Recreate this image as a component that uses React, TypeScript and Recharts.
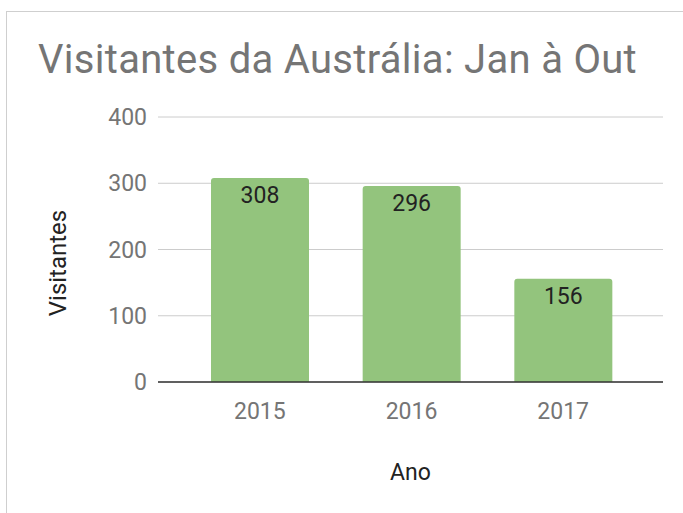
import React from 'react';
import { BarChart, Bar, XAxis, YAxis, CartesianGrid, LabelList, Label } from 'recharts';

const years = ['2015', '2016', '2017'];
const visitors = [308, 296, 156];
const yTicks = [0, 100, 200, 300, 400];

const data = years.map((year, i) => ({ year, visitors: visitors[i] }));

const FONT = 'Roboto, "Noto Sans", sans-serif';

const App: React.FC = () => {
  return (
    <div style={{ position: 'absolute', left: 0, top: 0, width: 683, height: 513, background: '#fff', fontFamily: FONT }}>
      {/* frame lines at top and left */}
      <div style={{ position: 'absolute', left: 6, top: 11, width: 677, height: 502, borderTop: '1px solid #cfcfcf', borderLeft: '1px solid #cfcfcf' }} />
      <div style={{ position: 'absolute', left: 38, top: 40, fontSize: 40, lineHeight: '40px', letterSpacing: 0.3, color: '#757575', whiteSpace: 'nowrap' }}>
        Visitantes da Austrália: Jan à Out
      </div>
      <div style={{ position: 'absolute', left: 0, top: 0 }}>
        <BarChart
          width={683}
          height={513}
          data={data}
          margin={{ top: 117, right: 20, bottom: 91, left: 70 }}
          barCategoryGap={27}
        >
          <CartesianGrid vertical={false} stroke="#cccccc" />
          <XAxis
            dataKey="year"
            padding={{ left: 26, right: 24 }}
            tickLine={false}
            tickSize={0}
            tickMargin={21}
            axisLine={{ stroke: '#333333', strokeWidth: 1.5 }}
            tick={{ fill: '#757575', fontSize: 23, fontFamily: FONT }}
            height={40}
          >
            <Label
              content={({ viewBox }: any) => (
                <text
                  x={viewBox.x + viewBox.width / 2}
                  y={480}
                  textAnchor="middle"
                  fill="#222222"
                  fontSize={23}
                  fontFamily={FONT}
                >
                  Ano
                </text>
              )}
            />
          </XAxis>
          <YAxis
            domain={[0, 400]}
            ticks={yTicks}
            width={88}
            axisLine={false}
            tickLine={false}
            tickSize={0}
            tickMargin={11}
            tick={{ fill: '#757575', fontSize: 23, fontFamily: FONT }}
          >
            <Label
              content={() => (
                <text
                  x={66}
                  y={263}
                  transform="rotate(-90, 66, 263)"
                  textAnchor="middle"
                  fill="#222222"
                  fontSize={24}
                  fontFamily={FONT}
                >
                  Visitantes
                </text>
              )}
            />
          </YAxis>
          <Bar dataKey="visitors" fill="#93c47d" radius={[3, 3, 0, 0]} isAnimationActive={false}>
            <LabelList dataKey="visitors" position="insideTop" offset={9} fill="#222222" fontSize={23} fontFamily={FONT} />
          </Bar>
        </BarChart>
      </div>
    </div>
  );
};

export default App;
